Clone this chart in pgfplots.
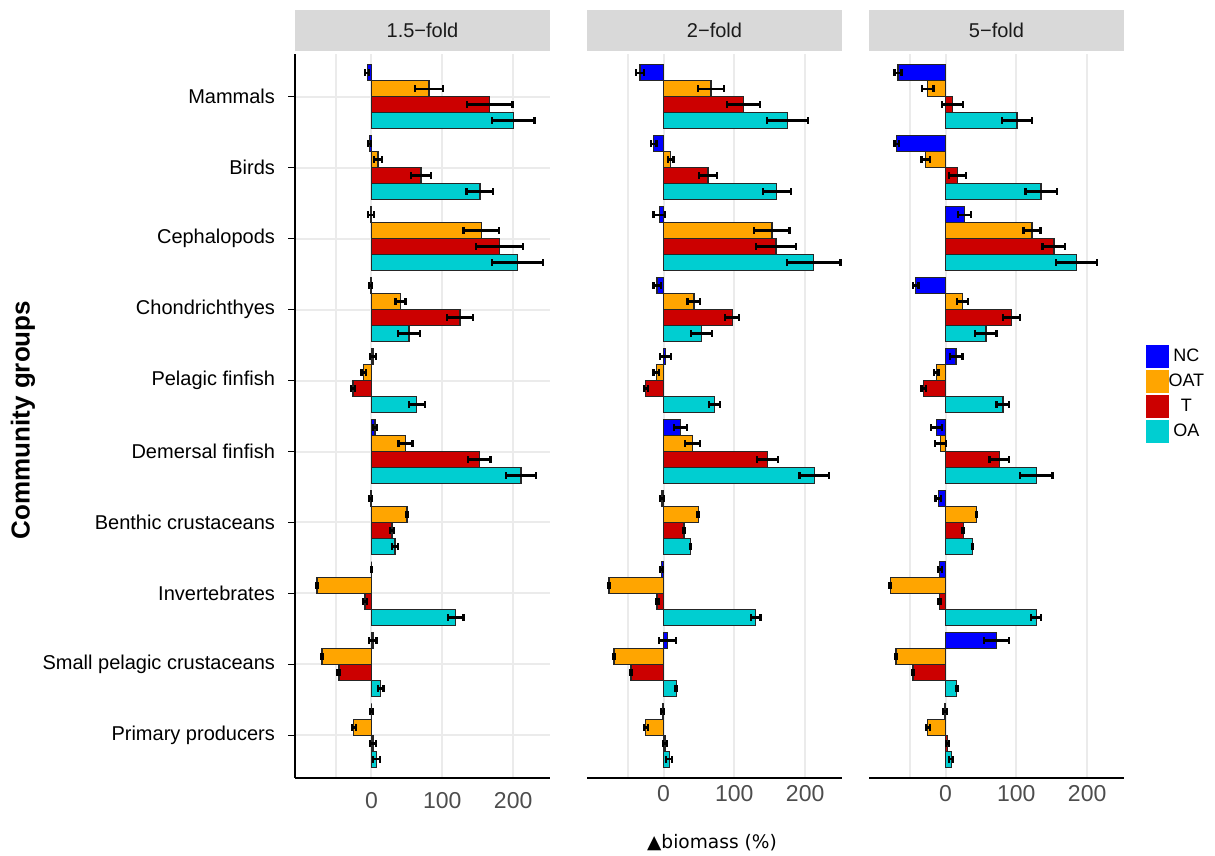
\documentclass[border=0pt]{standalone}
\usepackage{pgfplots}
\pgfplotsset{compat=1.18}
\usepackage{pgfplotstable}
\usepackage{fontspec}
\setmainfont{Liberation Sans}
\newfontfamily\dejavu{DejaVu Sans}
\definecolor{cNC}{HTML}{0000FF}
\definecolor{cOAT}{HTML}{FFA500}
\definecolor{cT}{HTML}{CC0000}
\definecolor{cOA}{HTML}{00CED1}
\definecolor{gridc}{HTML}{EBEBEB}
\definecolor{stripc}{HTML}{D9D9D9}
\definecolor{tickc}{HTML}{4D4D4D}
\definecolor{stript}{HTML}{1A1A1A}

% y: 0 Mammals ... 9 Primary producers
\pgfplotstableread{
y nc nce oat oate t te oa oae
0 -6 3 81 20 167 32 200 30
1 -3 2 9 6 70 14 153 19
2 -1 4 155 25 181 33 206 36
3 -1 2 41 7 125 18 53 16
4 2 4 -11 3 -26 3 64 11
5 5 3 48 10 152 16 211 21
6 -1 2 50 1 29 3 33 4
7 0 1 -77 1 -9 3 119 11
8 2 5 -70 1 -46 2 13 4
9 0 2 -25 3 2 4 7 5
}\tabA
\pgfplotstableread{
y nc nce oat oate t te oa oae
0 -33 6 67 18 113 23 175 29
1 -14 4 10 4 63 13 160 20
2 -6 8 153 25 159 28 212 38
3 -9 5 43 9 97 10 54 15
4 3 8 -10 4 -25 3 72 8
5 24 9 41 11 147 15 213 21
6 -2 3 49 1 29 1 38 1
7 -3 2 -77 1 -9 2 130 7
8 6 12 -70 1 -46 1 18 1
9 -1 2 -25 3 2 3 8 4
}\tabB
\pgfplotstableread{
y nc nce oat oate t te oa oae
0 -67 5 -25 8 10 15 101 21
1 -69 3 -28 6 17 12 135 22
2 27 9 122 12 153 16 185 29
3 -42 4 24 8 93 12 57 15
4 15 9 -13 3 -31 3 81 9
5 -13 8 -7 8 76 14 128 23
6 -10 4 44 1 25 1 38 1
7 -8 3 -78 1 -8 2 128 7
8 72 18 -70 1 -46 1 16 1
9 -1 3 -25 3 3 2 8 3
}\tabC

\pgfplotsset{
  panel/.style={
    width=127.5pt, height=362pt, scale only axis,
    xmin=-108, xmax=252, ymin=-0.6, ymax=9.6, y dir=reverse,
    xbar, bar width=0.225,
    xtick={-50,0,100,200}, xticklabels={,0,100,200},
    ytick={0,...,9},
    xtick style={draw=none},
    xmajorgrids, ymajorgrids,
    grid style={gridc, line width=1pt},
    xticklabel style={font=\fontsize{11.5}{13}\selectfont, text=tickc},
    /pgf/number format/assume math mode=true,
    axis line style={-, black, line width=0.8pt},
    clip=false,
    error bars/error mark=|,
    error bars/error bar style={black, line width=1.1pt},
    error bars/error mark options={black, line width=1.1pt, mark size=1.6pt},
  },
  bNC/.style={fill=cNC, draw=black!85, line width=0.65pt, bar shift=-0.3375},
  bOAT/.style={fill=cOAT, draw=black!85, line width=0.65pt, bar shift=-0.1125},
  bT/.style={fill=cT, draw=black!85, line width=0.65pt, bar shift=0.1125},
  bOA/.style={fill=cOA, draw=black!85, line width=0.65pt, bar shift=0.3375},
}

\newcommand\allbars[1]{%
  \addplot[bNC, error bars/.cd, x dir=both, x explicit] table[x=nc, y=y, x error=nce] {#1};
  \addplot[bOAT, error bars/.cd, x dir=both, x explicit] table[x=oat, y=y, x error=oate] {#1};
  \addplot[bT, error bars/.cd, x dir=both, x explicit] table[x=t, y=y, x error=te] {#1};
  \addplot[bOA, error bars/.cd, x dir=both, x explicit] table[x=oa, y=y, x error=oae] {#1};
}

\begin{document}
\begin{tikzpicture}
\path[use as bounding box] (0,0) rectangle (607.5pt,-428pt);

\begin{axis}[panel, name=ax1, at={(147.5pt,-389pt)}, anchor=south west,
  axis x line*=bottom, axis y line*=left,
  yticklabels={Mammals,Birds,Cephalopods,Chondrichthyes,Pelagic finfish,Demersal finfish,Benthic crustaceans,Invertebrates,Small pelagic crustaceans,Primary producers},
  yticklabel style={font=\fontsize{10}{12}\selectfont, text=black, xshift=-3pt},
  tick align=outside, major tick length=3.5pt,
  ytick style={black, line width=0.75pt},
]
\allbars{\tabA}
\end{axis}

\begin{axis}[panel, name=ax2, at={(293.5pt,-389pt)}, anchor=south west,
  axis x line*=bottom, axis y line=none,
  yticklabels={}, ytick style={draw=none},
]
\allbars{\tabB}
\end{axis}

\begin{axis}[panel, name=ax3, at={(434.5pt,-389pt)}, anchor=south west,
  axis x line*=bottom, axis y line=none,
  yticklabels={}, ytick style={draw=none},
  legend style={at={(1.086,0.598)}, anchor=north west, draw=none, fill=none,
    inner sep=0pt, row sep=1pt, font=\fontsize{9}{11}\selectfont,
    nodes={inner sep=0.5pt}},
  legend cell align=left,
  legend image code/.code={\fill[#1, draw=none] (0pt,-5.75pt) rectangle (11.5pt,5.75pt);},
]
\allbars{\tabC}
\legend{\makebox[16pt][c]{NC},\makebox[16pt][c]{OAT},\makebox[16pt][c]{T},\makebox[16pt][c]{OA}}
\end{axis}

\foreach \a/\lab in {ax1/{1.5−fold}, ax2/{2−fold}, ax3/{5−fold}}{
  \fill[stripc] ([yshift=1.5pt]\a.north west) rectangle ([yshift=22pt]\a.north east);
  \node[font=\fontsize{10}{12}\selectfont, text=stript] at ([yshift=11.75pt]\a.north) {\lab};
}

\node[rotate=90, font=\fontsize{13}{15}\selectfont\bfseries] at (11.5pt,-210pt) {Community groups};
\node[font=\dejavu\fontsize{9.3}{11}\selectfont] at (356pt,-421.5pt) {▲biomass (\%)};
\end{tikzpicture}
\end{document}
